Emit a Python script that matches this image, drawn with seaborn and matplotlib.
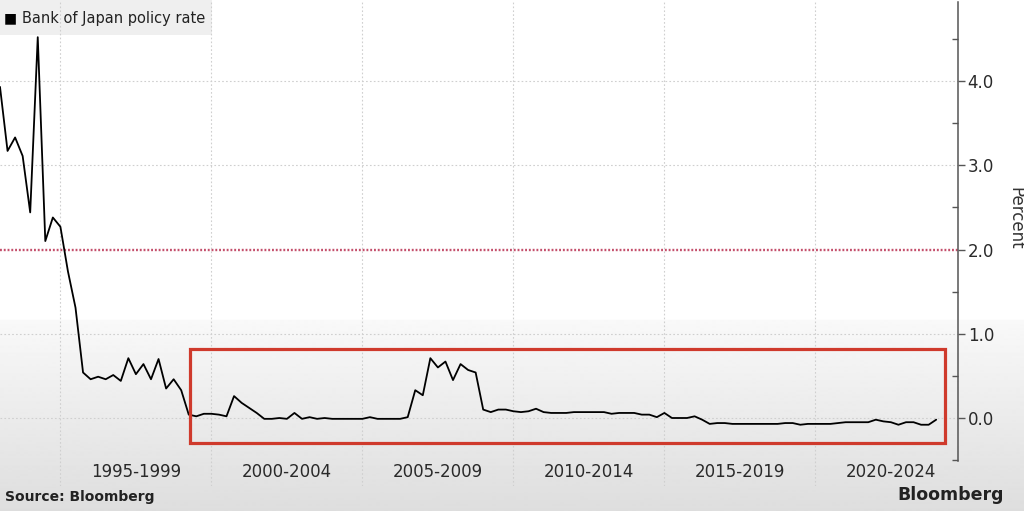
import numpy as np
import pandas as pd
import matplotlib
matplotlib.use("Agg")
import matplotlib.pyplot as plt
import seaborn as sns
from matplotlib.patches import Rectangle

sns.set_theme(style='white')
plt.rcParams['font.family'] = ['DejaVu Sans']

# quarterly readings, starting Q1 1993
start_year = 1993.0
rate = [3.93, 3.17, 3.33, 3.11, 2.44, 4.52, 2.10, 2.38, 2.27, 1.74,
        1.31, 0.54, 0.46, 0.49, 0.46, 0.51, 0.44, 0.71, 0.52, 0.64,
        0.46, 0.70, 0.35, 0.46, 0.33, 0.04, 0.02, 0.05, 0.05, 0.04,
        0.02, 0.26, 0.18, 0.12, 0.06, -0.01, -0.01, 0.00, -0.01, 0.06,
        -0.01, 0.01, -0.01, 0.00, -0.01, -0.01, -0.01, -0.01, -0.01, 0.01,
        -0.01, -0.01, -0.01, -0.01, 0.01, 0.33, 0.27, 0.71, 0.60, 0.67,
        0.45, 0.64, 0.57, 0.54, 0.10, 0.07, 0.10, 0.10, 0.08, 0.07,
        0.08, 0.11, 0.07, 0.06, 0.06, 0.06, 0.07, 0.07, 0.07, 0.07,
        0.07, 0.05, 0.06, 0.06, 0.06, 0.04, 0.04, 0.01, 0.06, 0.00,
        0.00, 0.00, 0.02, -0.02, -0.07, -0.06, -0.06, -0.07, -0.07, -0.07,
        -0.07, -0.07, -0.07, -0.07, -0.06, -0.06, -0.08, -0.07, -0.07, -0.07,
        -0.07, -0.06, -0.05, -0.05, -0.05, -0.05, -0.02, -0.04, -0.05, -0.08,
        -0.05, -0.05, -0.08, -0.08, -0.02]
years = start_year + 0.25 * np.arange(len(rate))
df = pd.DataFrame({'year': years, 'rate': rate})

period_labels = ['1995-1999', '2000-2004', '2005-2009', '2010-2014', '2015-2019', '2020-2024']
period_starts = [1995, 2000, 2005, 2010, 2015, 2020]
y_ticks = [0.0, 1.0, 2.0, 3.0, 4.0]
grid_levels = [0.0, 1.0, 3.0, 4.0]
target_rate = 2.0
# highlighted zone
box_x = (1999.3, 2024.3)
box_y = (-0.30, 0.82)

W, H = 1024, 511
fig = plt.figure(figsize=(W / 100, H / 100), dpi=100)

# soft grey gradient behind everything
bg = fig.add_axes([0, 0, 1, 1], zorder=-5)
rows = np.concatenate([np.ones(320), np.linspace(0.975, 0.87, H - 320)])
bg.imshow(rows[:, None], cmap='gray', vmin=0, vmax=1, aspect='auto',
          extent=[0, 1, 0, 1])
bg.set_axis_off()

ax = fig.add_axes([0, 1 - 486 / H, 958 / W, (486 - 2) / H])
ax.patch.set_alpha(0)

x0, x1 = 1993.0, 1993.0 + 958 / 30.2
ylo, yhi = (418 - 486) / 84.25, (418 - 2) / 84.25

for lv in grid_levels:
    ax.axhline(lv, color='#cfcfcf', lw=0.8, ls=(0, (1.5, 2)), zorder=1)
for yr in period_starts:
    ax.axvline(yr, color='#cfcfcf', lw=0.8, ls=(0, (1.5, 2)), zorder=1)
ax.axhline(target_rate, color='#c4506c', lw=1.7, ls=(0, (0.8, 0.8)), zorder=2)

sns.lineplot(data=df, x='year', y='rate', ax=ax, color='black', lw=1.3, zorder=4)

ax.add_patch(Rectangle((box_x[0], box_y[0]), box_x[1] - box_x[0], box_y[1] - box_y[0],
                       fill=False, edgecolor='#cf3a2c', lw=2.3, zorder=5))

ax.set_xlim(x0, x1)
ax.set_ylim(ylo, yhi)
ax.set_xlabel('')
ax.set_ylabel('')

for s in ['top', 'left', 'bottom']:
    ax.spines[s].set_visible(False)
ax.spines['right'].set_color('#555555')
ax.spines['right'].set_linewidth(1.1)
ax.spines['right'].set_bounds(-0.51, yhi)

ax.yaxis.tick_right()
ax.set_yticks(y_ticks)
ax.set_yticklabels([f'{v:.1f}' for v in y_ticks])
ax.set_yticks([v + 0.5 for v in [-1.0] + y_ticks], minor=True)
ax.tick_params(axis='y', which='major', direction='out', length=5, width=1,
               color='#555555', pad=2, labelsize=12, labelcolor='#2a2a2a')
ax.tick_params(axis='y', which='minor', direction='in', length=4, width=1,
               color='#555555', right=True, left=False)

ax.set_xticks([s + 2.5 for s in period_starts])
ax.set_xticklabels(period_labels)
ax.tick_params(axis='x', length=0, pad=-16.5, labelsize=12, labelcolor='#2a2a2a')

fig.text(1015 / W, 1 - 218 / H, 'Percent', rotation=270, ha='center', va='center',
         fontsize=12, color='#333333')

# legend chip at top-left
fig.patches.append(Rectangle((0, 1 - 35 / H), 212 / W, 35 / H, transform=fig.transFigure,
                             facecolor='#efefef', edgecolor='none', zorder=-1))
fig.text(4 / W, 1 - 18 / H, '\u25a0', fontsize=10, color='black', va='center')
fig.text(22 / W, 1 - 18 / H, 'Bank of Japan policy rate', fontsize=10.5,
         color='#222222', va='center')

fig.text(5 / W, 1 - 497 / H, 'Source: Bloomberg', fontsize=10, weight='bold',
         color='#222222', va='center')
fig.text(1004 / W, 1 - 495 / H, 'Bloomberg', fontsize=12.5, weight='bold',
         color='#222222', va='center', ha='right')

fig.savefig('out.png', dpi=100)
